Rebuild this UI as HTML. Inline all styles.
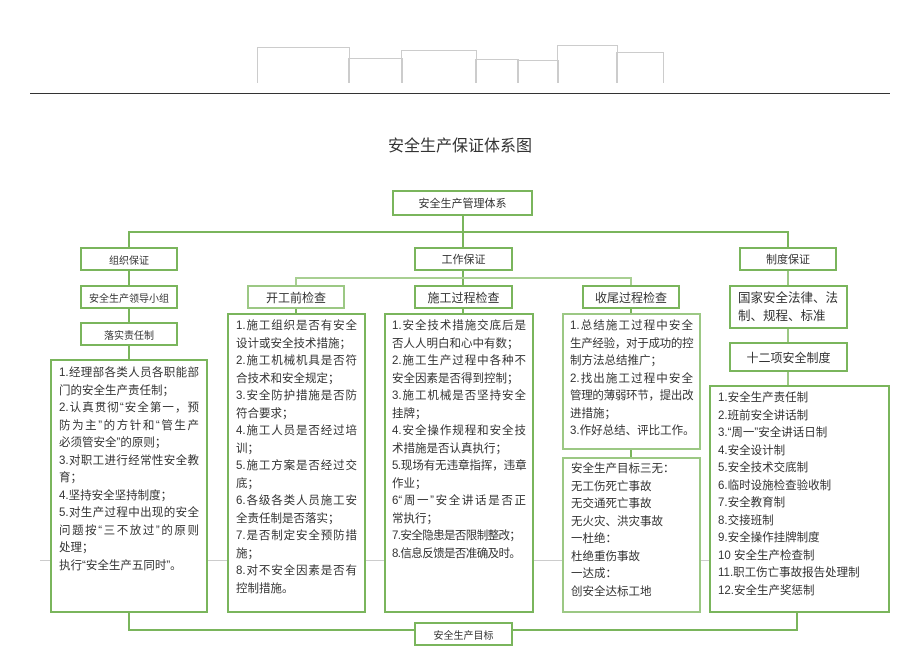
<!DOCTYPE html>
<html><head><meta charset="utf-8"><style>
body{margin:0;width:920px;height:651px;background:#fff;position:relative;overflow:hidden;font-family:"Liberation Sans","Noto Sans CJK SC",sans-serif;color:#333}
.a{position:absolute;box-sizing:border-box}
.b{position:absolute;box-sizing:border-box;border:2px solid #7ab55c;background:#fff}
.lbl{display:flex;align-items:center;justify-content:center;font-size:11px}
.h{position:absolute;height:2px;background:#7ab55c}
.v{position:absolute;width:2px;background:#7ab55c}
.g{position:absolute;border:1px solid #ccc;border-bottom:none}
.t{position:absolute;font-size:11.5px;line-height:17.5px}
.t div{text-align:justify;text-align-last:justify;height:17.5px;overflow:visible}
.t div.l{text-align-last:left;white-space:nowrap}
.t div.s{letter-spacing:-0.6px}
</style></head><body>
<div class="g" style="left:257px;top:47px;width:91px;height:35px"></div>
<div class="g" style="left:348px;top:58px;width:53px;height:24px"></div>
<div class="g" style="left:401px;top:50px;width:74px;height:32px"></div>
<div class="g" style="left:475px;top:59px;width:42px;height:23px"></div>
<div class="g" style="left:517px;top:60px;width:40px;height:22px"></div>
<div class="g" style="left:557px;top:45px;width:59px;height:37px"></div>
<div class="g" style="left:616px;top:52px;width:46px;height:30px"></div>
<div class="a" style="left:30px;top:93px;width:860px;height:1px;background:#333"></div>
<div class="a" style="left:0;top:132px;width:920px;text-align:center;font-size:16px">安全生产保证体系图</div>

<div class="v" style="left:462px;top:215px;height:32px"></div>
<div class="h" style="left:128px;top:231px;width:661px"></div>
<div class="v" style="left:128px;top:231px;height:16px"></div>
<div class="v" style="left:787px;top:231px;height:16px"></div>
<div class="v" style="left:128px;top:270px;height:89px"></div>
<div class="v" style="left:462px;top:270px;height:15px"></div>
<div class="h" style="left:295px;top:277px;width:337px;background:#a8cf92"></div>
<div class="v" style="left:295px;top:277px;height:8px;background:#a8cf92"></div>
<div class="v" style="left:630px;top:277px;height:8px;background:#a8cf92"></div>
<div class="v" style="left:295px;top:308px;height:5px"></div>
<div class="v" style="left:462px;top:308px;height:5px"></div>
<div class="v" style="left:630px;top:308px;height:5px"></div>
<div class="v" style="left:630px;top:449px;height:8px"></div>
<div class="v" style="left:787px;top:270px;height:15px;background:#9cc884"></div>
<div class="v" style="left:787px;top:328px;height:14px;background:#9cc884"></div>
<div class="v" style="left:787px;top:371px;height:14px;background:#9cc884"></div>
<div class="v" style="left:128px;top:613px;height:18px"></div>
<div class="h" style="left:128px;top:629px;width:670px"></div>
<div class="v" style="left:796px;top:613px;height:18px"></div>
<div class="a" style="left:40px;top:560px;width:850px;height:1px;background:#ccc"></div>

<div class="b lbl" style="left:392px;top:190px;width:141px;height:26px">安全生产管理体系</div>
<div class="b lbl" style="left:80px;top:247px;width:98px;height:24px;font-size:10px">组织保证</div>
<div class="b lbl" style="left:414px;top:247px;width:99px;height:24px">工作保证</div>
<div class="b lbl" style="left:739px;top:247px;width:98px;height:24px">制度保证</div>
<div class="b lbl" style="left:80px;top:285px;width:98px;height:24px;font-size:10px">安全生产领导小组</div>
<div class="b lbl" style="left:247px;top:285px;width:98px;height:24px;font-size:12px;border-color:#9cc884">开工前检查</div>
<div class="b lbl" style="left:414px;top:285px;width:99px;height:24px;font-size:12px">施工过程检查</div>
<div class="b lbl" style="left:582px;top:285px;width:98px;height:24px;font-size:12px">收尾过程检查</div>
<div class="b lbl" style="left:80px;top:322px;width:98px;height:24px;font-size:10px">落实责任制</div>
<div class="b" style="left:729px;top:285px;width:119px;height:44px"></div>
<div class="t" style="left:738px;top:289px;width:100px;font-size:12.5px;line-height:18px"><div>国家安全法律、法</div><div class="l">制、规程、标准</div></div>
<div class="b lbl" style="left:729px;top:342px;width:119px;height:30px;font-size:12px">十二项安全制度</div>

<div class="b" style="left:50px;top:359px;width:158px;height:254px"></div>
<div class="t" style="left:59px;top:365px;width:140px;line-height:17.3px">
<div>1.经理部各类人员各职能部</div><div class="l">门的安全生产责任制；</div><div>2.认真贯彻“安全第一，预</div><div>防为主”的方针和“管生产</div><div class="l">必须管安全”的原则；</div><div>3.对职工进行经常性安全教</div><div class="l">育；</div><div class="l">4.坚持安全坚持制度；</div><div>5.对生产过程中出现的安全</div><div>问题按“三不放过”的原则</div><div class="l">处理；</div><div class="l">执行“安全生产五同时”。</div></div>

<div class="b" style="left:227px;top:313px;width:139px;height:300px"></div>
<div class="t" style="left:236px;top:318px;width:121px">
<div>1.施工组织是否有安全</div><div class="l">设计或安全技术措施；</div><div>2.施工机械机具是否符</div><div class="l">合技术和安全规定；</div><div>3.安全防护措施是否防</div><div class="l">符合要求；</div><div>4.施工人员是否经过培</div><div class="l">训；</div><div>5.施工方案是否经过交</div><div class="l">底；</div><div>6.各级各类人员施工安</div><div class="l">全责任制是否落实；</div><div>7.是否制定安全预防措</div><div class="l">施；</div><div>8.对不安全因素是否有</div><div class="l">控制措施。</div></div>

<div class="b" style="left:384px;top:313px;width:150px;height:300px"></div>
<div class="t" style="left:392px;top:318px;width:134px">
<div>1.安全技术措施交底后是</div><div class="l">否人人明白和心中有数；</div><div>2.施工生产过程中各种不</div><div class="l">安全因素是否得到控制；</div><div>3.施工机械是否坚持安全</div><div class="l">挂牌；</div><div>4.安全操作规程和安全技</div><div class="l">术措施是否认真执行；</div><div class="s">5.现场有无违章指挥，违章</div><div class="l">作业；</div><div>6“周一”安全讲话是否正</div><div class="l">常执行；</div><div class="l s">7.安全隐患是否限制整改；</div><div class="l s">8.信息反馈是否准确及时。</div></div>

<div class="b" style="left:562px;top:313px;width:139px;height:137px;border-color:#9cc884"></div>
<div class="t" style="left:570px;top:318px;width:123px">
<div>1.总结施工过程中安全</div><div class="s">生产经验，对于成功的控</div><div class="l">制方法总结推广；</div><div>2.找出施工过程中安全</div><div class="s">管理的薄弱环节，提出改</div><div class="l">进措施；</div><div class="l">3.作好总结、评比工作。</div></div>

<div class="b" style="left:562px;top:457px;width:139px;height:156px;border-color:#9cc884"></div>
<div class="t" style="left:571px;top:461px;width:122px">
<div class="l">安全生产目标三无：</div><div class="l">无工伤死亡事故</div><div class="l">无交通死亡事故</div><div class="l">无火灾、洪灾事故</div><div class="l">一杜绝：</div><div class="l">杜绝重伤事故</div><div class="l">一达成：</div><div class="l">创安全达标工地</div></div>

<div class="b" style="left:709px;top:385px;width:181px;height:228px"></div>
<div class="t" style="left:718px;top:390px;width:170px;line-height:17.4px">
<div class="l">1.安全生产责任制</div><div class="l">2.班前安全讲话制</div><div class="l">3.“周一”安全讲话日制</div><div class="l">4.安全设计制</div><div class="l">5.安全技术交底制</div><div class="l">6.临时设施检查验收制</div><div class="l">7.安全教育制</div><div class="l">8.交接班制</div><div class="l">9.安全操作挂牌制度</div><div class="l">10 安全生产检查制</div><div class="l">11.职工伤亡事故报告处理制</div><div class="l">12.安全生产奖惩制</div></div>

<div class="b lbl" style="left:414px;top:622px;width:99px;height:24px;font-size:10px">安全生产目标</div>
</body></html>
